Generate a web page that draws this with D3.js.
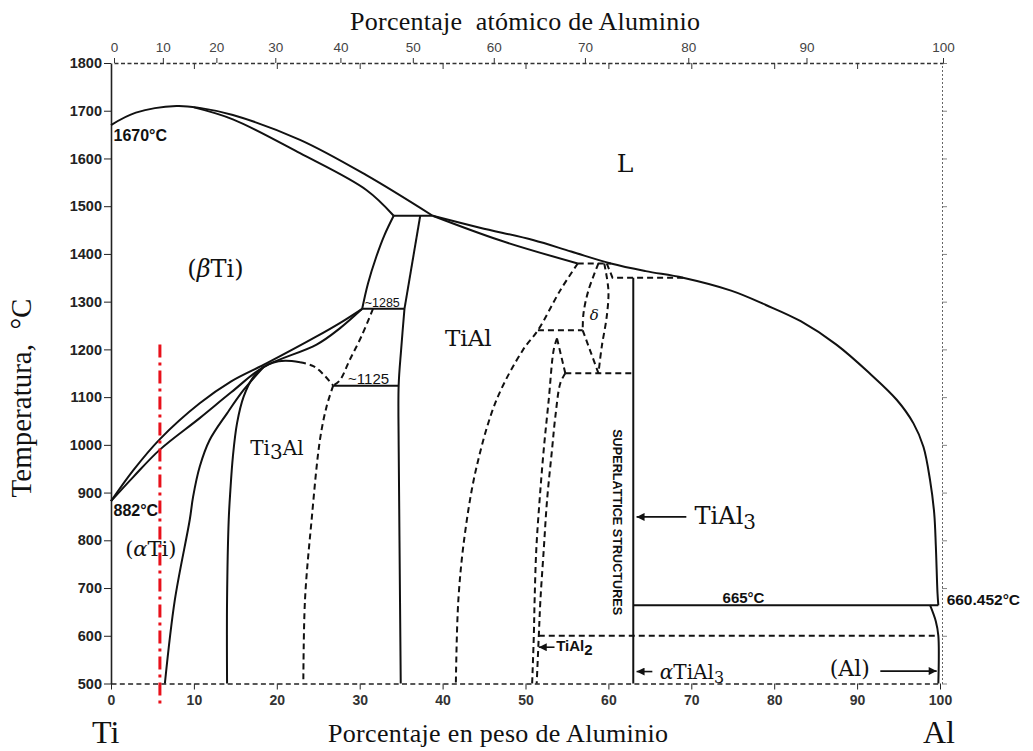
<!DOCTYPE html>
<html>
<head>
<meta charset="utf-8">
<script src="https://cdn.jsdelivr.net/npm/d3@7"></script>
<style>
    body { margin: 0; background: #fff; }
    svg { display: block; }
    .axis text { font-family: "Liberation Sans", Arial, sans-serif; }
</style>
</head>
<body>
<svg id="chart" width="1033" height="751"></svg>
<script>
'use strict';

// tick labels
const wtTicks = [0, 10, 20, 30, 40, 50, 60, 70, 80, 90, 100];
const atTicks = [0, 10, 20, 30, 40, 50, 60, 70, 80, 90, 100];
const tempTicks = [500, 600, 700, 800, 900, 1000, 1100, 1200, 1300, 1400, 1500, 1600, 1700, 1800];

// phase boundaries as [wt% Al, temperature °C]
const liquidusBeta = [[0,1670],[3,1696],[7.9,1710],[10.7,1706],[14.7,1691],[22.8,1639],[30.8,1565],[38.8,1480]];
const solidusBeta = [[10.0,1707],[14.7,1682],[22.8,1611],[30.8,1534],[34.1,1480]];
const peritectic1480 = [[34.1,1480],[38.8,1480]];
const liquidusAl = [[38.8,1480],[44.5,1455],[50.9,1429],[55.5,1405],[60.3,1380],[64.5,1364],[69.0,1350],[74.8,1323],[79,1293],[83.2,1259],[87.5,1210],[91.5,1150],[94.8,1094],[96.8,1045],[98.0,996],[98.8,926],[99.3,857],[99.5,787],[99.7,689],[99.8,664]];
const solidusTiAl = [[38.8,1480],[47,1428],[56.3,1380]];
const peritectic1380 = [[56.3,1380],[60.3,1380]];
const betaTransus = [[0,882],[2.7,947],[5.9,1012],[10.7,1087],[14.5,1133],[18.8,1171],[24.8,1227],[27.6,1255],[30.3,1285]];
const alphaTransus = [[0,882],[2.7,933],[5.9,990],[10.7,1056],[14.5,1110],[18.4,1163],[24.8,1210],[27.6,1244],[30.3,1285]];
const betaLeft = [[34.1,1480],[33.0,1440],[32.0,1394],[31.0,1338],[30.3,1285]];
const alphaTiAl = [[37.3,1480],[35.4,1285]];
const eutectoid1285 = [[30.3,1285],[35.4,1285]];
const tiAlLeft = [[35.4,1285],[35.0,1200],[34.7,1125],[34.7,1000],[34.8,800],[34.95,500]];
const eutectoid1125 = [[26.8,1124],[34.7,1124]];
const ti3AlDome = [[18.4,1163],[19.5,1172],[21.0,1176],[22.8,1173]];
const ti3AlDomeDash = [[22.8,1173],[24.4,1165],[25.6,1148],[26.8,1124]];
const alphaSolvus = [[18.4,1163],[16.0,1115],[14.0,1066],[11.9,1010],[10.7,954],[9.9,891],[9.5,843],[7.7,675],[6.5,500]];
const ti3AlLeft = [[18.4,1163],[17.2,1143],[16.0,1101],[15.2,1045],[14.7,975],[14.4,905],[14.2,843],[14.0,675],[14.0,500]];
const alphaDash = [[31.6,1285],[30.2,1227],[28.8,1178],[27.6,1135],[26.8,1124]];
const ti3AlRight = [[26.8,1124],[26.0,1080],[25.2,1010],[24.2,843],[23.4,675],[23.2,500]];
const tiAlRight = [[56.3,1380],[54.2,1324],[51.5,1240],[49.7,1199],[46.5,1094],[44.1,954],[42.7,815],[41.9,675],[41.6,500]];
const line1240 = [[51.5,1240],[56.9,1240]];
const deltaLeft = [[58.8,1380],[57.6,1324],[57.0,1276],[56.9,1240]];
const deltaDiag = [[56.9,1240],[58.8,1150]];
const deltaRight = [[59.5,1380],[60.0,1324],[59.8,1269],[59.2,1206],[58.8,1150]];
const tiAl2Left = [[53.8,1223],[53.4,1199],[52.8,1094],[52.2,990],[51.7,884],[51.3,780],[51.1,675],[51.0,598],[50.8,500]];
const tiAl2Top = [[53.8,1223],[54.8,1150]];
const tiAl2Right = [[54.8,1150],[54.2,1129],[53.6,1059],[53.2,990],[52.6,884],[52.2,780],[51.8,675],[51.6,598],[51.35,500]];
const line1150 = [[54.8,1150],[63.0,1150]];
const line1350 = [[59.8,1380],[60.5,1350],[69.0,1350]];
const tiAl3 = [[63.0,1350],[63.0,500]];
const eutectic665 = [[63.0,664],[99.8,664]];
const alSolvus = [[98.8,664],[99.5,630],[99.8,600],[99.8,500]];
const line600 = [[51.6,600],[99.8,600]];
const alloyMark = [[5.9,1210],[5.9,458]];

// atomic % -> weight % of Al
const M_AL = 26.98, M_TI = 47.87;
function wtFromAt(a){
    return 100 * a * M_AL / (a * M_AL + (100 - a) * M_TI);
}

const svg = d3.select('#chart');

const x = d3.scaleLinear().domain([0, 100]).range([111, 940]);
const y = d3.scaleLinear().domain([500, 1800]).range([683.5, 63]);
// piecewise scale for the atomic % axis on top (scan is shifted a few px)
const xAt = d3.scaleLinear().domain(atTicks).range(atTicks.map(a => x(wtFromAt(a)) + 3));

// arrow head
svg.append('defs').append('marker')
    .attr('id', 'arr')
    .attr('viewBox', '0 0 10 10')
    .attr('refX', 10).attr('refY', 5)
    .attr('markerUnits', 'userSpaceOnUse')
    .attr('markerWidth', 13).attr('markerHeight', 8)
    .attr('orient', 'auto')
    .append('path').attr('d', 'M0,0L10,5L0,10z').attr('fill', '#111');

// ---------- axes ----------
const ink = '#222';
const fmt = d3.format('d');

// left temperature axis
const gLeft = svg.append('g').attr('class', 'axis').attr('transform', `translate(${x(0)},0)`);
gLeft.call(d3.axisLeft(y).tickValues(d3.range(500, 1801, 10)).tickSize(3).tickFormat('').tickSizeOuter(0));
gLeft.call(d3.axisLeft(y).tickValues(tempTicks).tickSize(7).tickPadding(2).tickFormat(fmt).tickSizeOuter(0));
gLeft.selectAll('line').attr('stroke', ink).attr('stroke-width', 1);
gLeft.selectAll('path.domain').attr('stroke', ink).attr('stroke-width', 1.6);
gLeft.selectAll('text').attr('font-size', 14.5).attr('font-weight', 'bold').attr('fill', '#222');

// right axis (dotted)
const gRight = svg.append('g').attr('class', 'axis').attr('transform', `translate(${x(100) + 2},0)`);
gRight.call(d3.axisRight(y).tickValues(d3.range(500, 1801, 10)).tickSize(2).tickFormat('').tickSizeOuter(0));
gRight.call(d3.axisRight(y).tickValues(tempTicks).tickSize(5).tickFormat('').tickSizeOuter(0));
gRight.selectAll('line').attr('stroke', '#666').attr('stroke-width', 0.8);
gRight.selectAll('path.domain').attr('stroke', '#666').attr('stroke-width', 1).attr('stroke-dasharray', '2,2');

// bottom weight % axis
const gBottom = svg.append('g').attr('class', 'axis').attr('transform', `translate(0,${y(500)})`);
gBottom.call(d3.axisBottom(x).tickValues(d3.range(0, 101, 5)).tickSize(4).tickFormat('').tickSizeOuter(0));
gBottom.call(d3.axisBottom(x).tickValues(wtTicks).tickSize(6).tickPadding(6).tickFormat(fmt).tickSizeOuter(0));
gBottom.selectAll('line').attr('stroke', ink).attr('stroke-width', 1);
gBottom.selectAll('path.domain').attr('stroke', ink).attr('stroke-width', 1.6).attr('stroke-dasharray', '5,3.3');
gBottom.selectAll('text').attr('font-size', 14).attr('fill', '#333').attr('font-weight', 'bold');

// top atomic % axis
const gTop = svg.append('g').attr('class', 'axis').attr('transform', `translate(0,${y(1800)})`);
gTop.call(d3.axisTop(xAt).tickValues(d3.range(0, 100, 2)).tickSize(2).tickFormat('').tickSizeOuter(0));
gTop.call(d3.axisTop(xAt).tickValues(atTicks).tickSize(5).tickPadding(6).tickFormat(fmt).tickSizeOuter(0));
gTop.selectAll('line').attr('stroke', '#333').attr('stroke-width', 1);
gTop.selectAll('path.domain').attr('stroke', '#333').attr('stroke-width', 1.4).attr('stroke-dasharray', '4,2.5');
gTop.selectAll('text').attr('font-size', 13.5).attr('fill', '#444');
// weight % ticks hanging from the top axis
const gTopWt = svg.append('g').attr('class', 'axis').attr('transform', `translate(0,${y(1800)})`);
gTopWt.call(d3.axisBottom(x).tickValues(wtTicks.slice(1, 10)).tickSize(6).tickFormat('').tickSizeOuter(0));
gTopWt.selectAll('line').attr('stroke', '#333').attr('stroke-width', 1);
gTopWt.select('path.domain').remove();

// ---------- phase boundaries ----------
const smooth = d3.line().x(d => x(d[0])).y(d => y(d[1])).curve(d3.curveCatmullRom.alpha(0.5));
const straight = d3.line().x(d => x(d[0])).y(d => y(d[1]));

const solidCurves = [liquidusBeta, solidusBeta, liquidusAl, solidusTiAl, betaTransus, alphaTransus,
    betaLeft, tiAlLeft, ti3AlDome, alphaSolvus, ti3AlLeft, alSolvus];
const solidStraight = [peritectic1480, alphaTiAl, eutectoid1285, eutectoid1125, tiAl3, eutectic665];
const dashCurves = [ti3AlDomeDash, alphaDash, ti3AlRight, tiAlRight, deltaLeft, deltaRight, tiAl2Left, tiAl2Right];
const dashStraight = [peritectic1380, line1240, deltaDiag, tiAl2Top, line1150, line1350, line600];

const gLines = svg.append('g').attr('fill', 'none').attr('stroke', '#111').attr('stroke-linejoin', 'round');

gLines.selectAll('path.solid')
    .data(solidCurves.map(p => smooth(p)).concat(solidStraight.map(p => straight(p))))
    .enter().append('path')
    .attr('class', 'solid')
    .attr('d', d => d)
    .attr('stroke-width', 2);

gLines.selectAll('path.dash')
    .data(dashCurves.map(p => smooth(p)).concat(dashStraight.map(p => straight(p))))
    .enter().append('path')
    .attr('class', 'dash')
    .attr('d', d => d)
    .attr('stroke-width', 2)
    .attr('stroke-dasharray', '6,4');

// red dash-dot alloy line
svg.append('path')
    .attr('d', straight(alloyMark))
    .attr('fill', 'none')
    .attr('stroke', '#e8101a')
    .attr('stroke-width', 3)
    .attr('stroke-dasharray', '13,5,3,5');

// ---------- labels ----------
const serif = '"Liberation Serif", "Times New Roman", serif';
const plotFont = '"DejaVu Serif", serif';
const numFont = '"Liberation Sans", Arial, sans-serif';

function label(text, w, t, opts){
    const o = Object.assign({ anchor: 'start', size: 14, font: numFont, weight: 'normal' }, opts);
    return svg.append('text')
        .attr('x', x(w)).attr('y', y(t))
        .attr('text-anchor', o.anchor)
        .attr('font-family', o.font)
        .attr('font-size', o.size)
        .attr('font-weight', o.weight)
        .attr('fill', '#111')
        .text(text);
}

function arrow(w1, w2, t){
    svg.append('line')
        .attr('x1', x(w1)).attr('y1', y(t))
        .attr('x2', x(w2)).attr('y2', y(t))
        .attr('stroke', '#111').attr('stroke-width', 1.6)
        .attr('marker-end', 'url(#arr)');
}

label('L', 62.0, 1572, { anchor: 'middle', size: 25, font: plotFont });

const beta = label('', 12.6, 1352, { anchor: 'middle', size: 24, font: plotFont });
beta.append('tspan').text('(');
beta.append('tspan').attr('font-style', 'italic').text('β');
beta.append('tspan').text('Ti)');

label('TiAl', 43.1, 1207, { anchor: 'middle', size: 23, font: plotFont });

const ti3 = label('Ti', 16.8, 979, { size: 20, font: plotFont });
ti3.append('tspan').attr('dy', 4).text('3');
ti3.append('tspan').attr('dy', -4).text('Al');

const aTi = label('', 4.8, 767, { anchor: 'middle', size: 21, font: plotFont });
aTi.append('tspan').text('(');
aTi.append('tspan').attr('font-style', 'italic').text('α');
aTi.append('tspan').text('Ti)');

label('1670°C', 0.3, 1637, { size: 16, weight: 'bold' });
label('882°C', 0.3, 851, { size: 16, weight: 'bold' });
label('~1285', 30.6, 1288, { size: 12.5 });
label('~1125', 28.6, 1128, { size: 15 });
label('δ', 58.3, 1262, { anchor: 'middle', size: 15, font: plotFont }).attr('font-style', 'italic');
label('665°C', 76.3, 669, { anchor: 'middle', size: 15, weight: 'bold' });
label('660.452°C', 100.8, 664, { size: 15.5, weight: 'bold' });

// TiAl3 with arrow
arrow(69.4, 63.4, 849);
const tial3 = label('TiAl', 70.4, 834, { size: 24, font: plotFont });
tial3.append('tspan').attr('dy', 5).attr('font-size', 20).text('3');

// superlattice note, rotated
svg.append('text')
    .attr('transform', `translate(${x(61.1)},${y(838)}) rotate(90)`)
    .attr('text-anchor', 'middle')
    .attr('dy', '0.35em')
    .attr('font-family', numFont)
    .attr('font-weight', 'bold')
    .attr('font-size', 12.5)
    .attr('textLength', 186)
    .attr('lengthAdjust', 'spacingAndGlyphs')
    .attr('fill', '#111')
    .text('SUPERLATTICE STRUCTURES');

// TiAl2
arrow(53.5, 51.6, 576);
const tial2 = label('TiAl', 53.7, 569, { size: 15, weight: 'bold' });
tial2.append('tspan').attr('dy', 4).text('2');

// alpha TiAl3
arrow(65.3, 63.4, 525);
const atial3 = label('', 66.2, 510, { size: 20, font: plotFont });
atial3.append('tspan').attr('font-style', 'italic').text('α');
atial3.append('tspan').text('TiAl');
atial3.append('tspan').attr('dy', 4).attr('font-size', 16).text('3');

// (Al)
label('(Al)', 86.7, 516, { size: 22, font: plotFont });
arrow(92.8, 99.6, 526);

// ---------- axis titles ----------
svg.append('text')
    .attr('x', 525).attr('y', 30)
    .attr('text-anchor', 'middle')
    .attr('font-family', serif).attr('font-size', 26)
    .attr('textLength', 350).attr('lengthAdjust', 'spacing')
    .style('white-space', 'pre')
    .attr('fill', '#111')
    .text('Porcentaje  atómico de Aluminio');

svg.append('text')
    .attr('x', 498).attr('y', 742)
    .attr('text-anchor', 'middle')
    .attr('font-family', serif).attr('font-size', 26)
    .attr('textLength', 340).attr('lengthAdjust', 'spacing')
    .attr('fill', '#111')
    .text('Porcentaje en peso de Aluminio');

svg.append('text')
    .attr('x', 92).attr('y', 743)
    .attr('font-family', serif).attr('font-size', 32)
    .attr('fill', '#111')
    .text('Ti');

svg.append('text')
    .attr('x', 923).attr('y', 743)
    .attr('font-family', serif).attr('font-size', 32)
    .attr('fill', '#111')
    .text('Al');

svg.append('text')
    .attr('transform', 'translate(31,398) rotate(-90)')
    .attr('text-anchor', 'middle')
    .attr('font-family', serif).attr('font-size', 29)
    .style('white-space', 'pre')
    .attr('fill', '#111')
    .text('Temperatura,  °C');
</script>
</body>
</html>
